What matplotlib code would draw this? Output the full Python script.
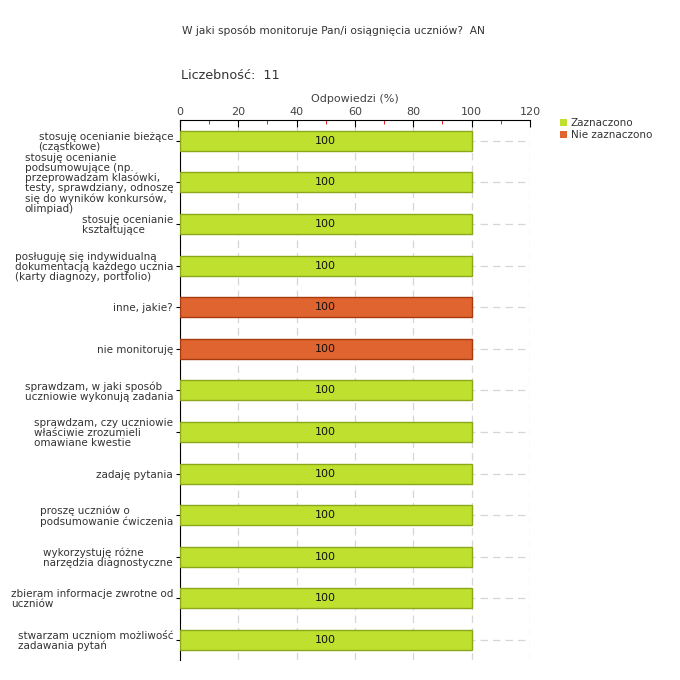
import matplotlib
matplotlib.use("Agg")
import matplotlib.pyplot as plt
from matplotlib.ticker import MultipleLocator

categories = [
    "stosuję ocenianie bieżące\n(cząstkowe)",
    "stosuję ocenianie\npodsumowujące (np.\nprzeprowadzam klasówki,\ntesty, sprawdziany, odnoszę\nsię do wyników konkursów,\nolimpiad)",
    "stosuję ocenianie\nkształtujące",
    "posługuję się indywidualną\ndokumentacją każdego ucznia\n(karty diagnozy, portfolio)",
    "inne, jakie?",
    "nie monitoruję",
    "sprawdzam, w jaki sposób\nuczniowie wykonują zadania",
    "sprawdzam, czy uczniowie\nwłaściwie zrozumieli\nomawiane kwestie",
    "zadaję pytania",
    "proszę uczniów o\npodsumowanie ćwiczenia",
    "wykorzystuję różne\nnarzędzia diagnostyczne",
    "zbieram informacje zwrotne od\nuczniów",
    "stwarzam uczniom możliwość\nzadawania pytań",
]
values = [100, 100, 100, 100, 100, 100, 100, 100, 100, 100, 100, 100, 100]
# 1 = Zaznaczono, 0 = Nie zaznaczono
selected = [1, 1, 1, 1, 0, 0, 1, 1, 1, 1, 1, 1, 1]
series_names = ["Zaznaczono", "Nie zaznaczono"]
title = "W jaki sposób monitoruje Pan/i osiągnięcia uczniów?  AN"
count_text = "Liczebność:  11"

green, green_edge = "#BFE02F", "#8AA81A"
orange, orange_edge = "#E0642F", "#A83A10"

fig = plt.figure(figsize=(6.8, 6.8), dpi=100)
ax = fig.add_axes([0.2647, 0.0294, 0.5147, 0.794])

ys = list(range(len(categories)))
fc = [green if s else orange for s in selected]
ec = [green_edge if s else orange_edge for s in selected]
ax.barh(ys, values, height=0.48, color=fc, edgecolor=ec, linewidth=1, zorder=3)
for y, v in zip(ys, values):
    ax.text(v / 2, y, f"{v}", ha="center", va="center", fontsize=8, color="#111", zorder=4)

ax.set_xlim(0, 120)
ax.set_ylim(len(categories) - 0.52, -0.5)
ax.xaxis.tick_top()
ax.xaxis.set_label_position("top")
ax.xaxis.set_major_locator(MultipleLocator(20))
ax.xaxis.set_minor_locator(MultipleLocator(10))
ax.tick_params(axis="x", which="major", direction="in", length=5, color="black",
               labelsize=8, labelcolor="#444", pad=2)
ax.tick_params(axis="x", which="minor", direction="in", length=3, color="#dd0000")
ax.set_xlabel("Odpowiedzi (%)", fontsize=8, color="#444", labelpad=4)

ax.set_yticks(ys)
ax.set_yticklabels(categories, fontsize=7.5, color="#333", linespacing=1.0,
                   multialignment="left")
ax.tick_params(axis="y", direction="out", length=3, color="black", pad=2)

ax.grid(True, which="major", axis="both", linestyle=(0, (6, 4)), color="#d6d6d6", linewidth=0.9, zorder=0)
for s in ["right", "bottom"]:
    ax.spines[s].set_visible(False)
ax.spines["left"].set_color("black")
ax.spines["top"].set_color("black")

fig.text(0.268, 0.955, title, fontsize=7.7, color="#333", va="center")
fig.text(0.266, 0.889, count_text, fontsize=9.2, color="#333", va="center")

handles = [plt.Rectangle((0, 0), 1, 1, facecolor=c, edgecolor="none") for c in (green, orange)]
fig.legend(handles, series_names, loc="upper left", bbox_to_anchor=(0.818, 0.832),
           frameon=False, fontsize=7.5, handlelength=0.6, handleheight=0.6,
           handletextpad=0.4, labelspacing=0.15, borderaxespad=0, labelcolor="#333")

fig.savefig("out.png", dpi=100)
